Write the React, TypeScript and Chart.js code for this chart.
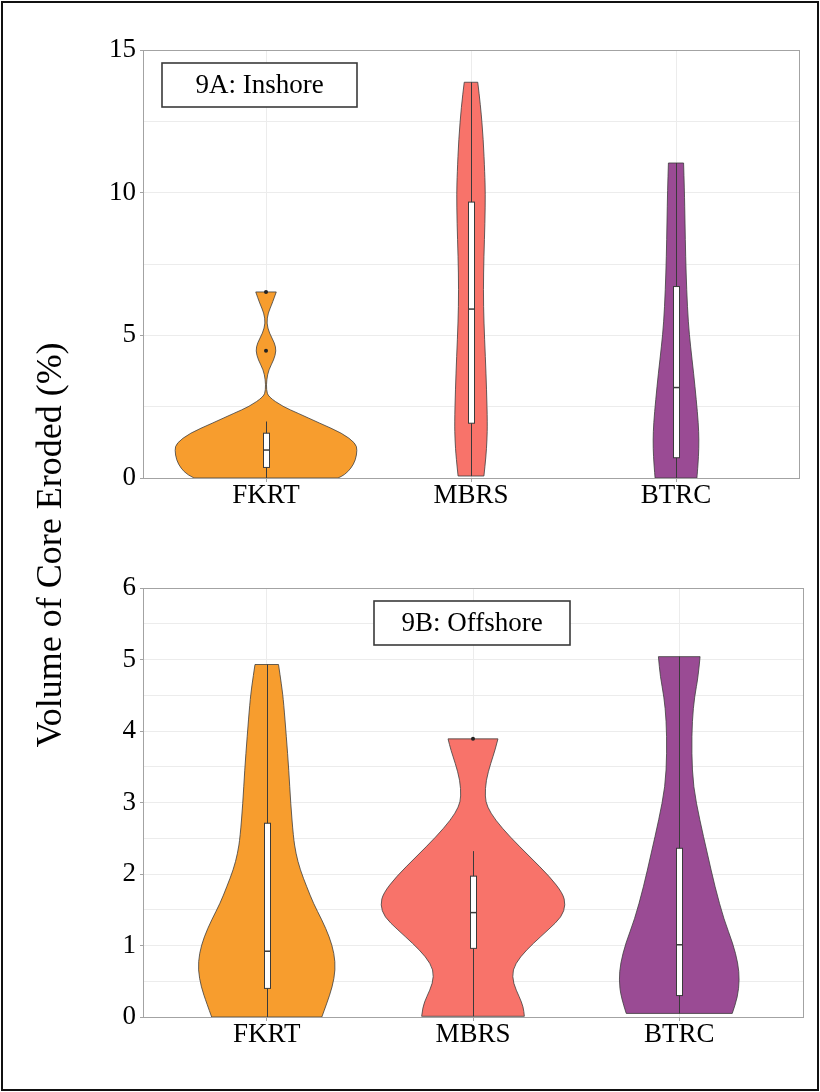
import { useEffect, useRef } from "react";
import { Chart, registerables } from "chart.js";

Chart.register(...registerables);

// Sites along the x axis and their fill colours
const sites = ["FKRT", "MBRS", "BTRC"];
const siteColors = ["#F79D2E", "#F8736A", "#9A4B94"];

type Profile = [number, number][]; // [value, half width of the density in category units]

// 9A: Inshore — density outlines
const inshoreFKRT: Profile = [
  [0, 0.351], [0.11, 0.383], [0.34, 0.415], [0.63, 0.437], [0.98, 0.445], [1.22, 0.437],
  [1.57, 0.372], [1.92, 0.262], [2.27, 0.156], [2.5, 0.083], [2.85, 0.011], [3.09, 0.002],
  [3.44, 0.003], [3.79, 0.013], [4.14, 0.038], [4.46, 0.05], [4.73, 0.042], [5.08, 0.016],
  [5.43, 0.003], [5.78, 0.01], [6.13, 0.031], [6.52, 0.05],
];
const inshoreMBRS: Profile = [
  [0.07, 0.063], [0.75, 0.073], [1.33, 0.078], [1.92, 0.08], [3.09, 0.076], [4.26, 0.07],
  [5.43, 0.063], [6.6, 0.06], [7.77, 0.063], [8.94, 0.068], [9.99, 0.07], [10.69, 0.067],
  [11.86, 0.06], [13.03, 0.047], [13.87, 0.033],
];
const inshoreBTRC: Profile = [
  [0, 0.102], [0.16, 0.104], [0.75, 0.11], [1.33, 0.112], [1.92, 0.109], [2.74, 0.099],
  [3.67, 0.086], [4.61, 0.071], [5.43, 0.06], [6.6, 0.052], [7.77, 0.047], [8.94, 0.044],
  [10.11, 0.041], [11.04, 0.037],
];
const inshoreQ1 = [0.37, 1.92, 0.71];
const inshoreMedian = [0.98, 5.92, 3.17];
const inshoreQ3 = [1.57, 9.67, 6.71];
const inshoreWhiskerLow = [0, 0.07, 0];
const inshoreWhiskerHigh = [1.98, 13.87, 11.04];
const inshoreOutlierSite = [0, 0];
const inshoreOutlierValue = [6.52, 4.46];

// 9B: Offshore — density outlines
const offshoreFKRT: Profile = [
  [0, 0.267], [0.19, 0.291], [0.42, 0.318], [0.66, 0.333], [0.89, 0.327], [1.12, 0.304],
  [1.36, 0.267], [1.59, 0.226], [1.82, 0.194], [2.06, 0.162], [2.29, 0.141], [2.52, 0.129],
  [2.99, 0.116], [3.45, 0.107], [3.92, 0.095], [4.39, 0.082], [4.62, 0.073], [4.93, 0.057],
];
const offshoreMBRS: Profile = [
  [0.01, 0.249], [0.14, 0.244], [0.28, 0.225], [0.47, 0.195], [0.66, 0.191], [0.84, 0.228],
  [1.03, 0.292], [1.22, 0.365], [1.4, 0.43], [1.57, 0.449], [1.73, 0.435], [1.96, 0.373],
  [2.24, 0.276], [2.52, 0.179], [2.76, 0.107], [2.94, 0.069], [3.08, 0.058], [3.31, 0.063],
  [3.55, 0.086], [3.73, 0.107], [3.89, 0.121],
];
const offshoreBTRC: Profile = [
  [0.05, 0.257], [0.28, 0.283], [0.52, 0.292], [0.75, 0.285], [1.03, 0.26], [1.36, 0.217],
  [1.82, 0.173], [2.29, 0.136], [2.76, 0.099], [3.22, 0.068], [3.69, 0.06], [4.15, 0.063],
  [4.48, 0.074], [4.76, 0.092], [5.04, 0.101],
];
const offshoreQ1 = [0.4, 0.96, 0.3];
const offshoreMedian = [0.92, 1.46, 1.01];
const offshoreQ3 = [2.71, 1.97, 2.36];
const offshoreWhiskerLow = [0, 0.01, 0.05];
const offshoreWhiskerHigh = [4.93, 2.32, 5.04];
const offshoreOutlierSite = [1];
const offshoreOutlierValue = [3.89];

// Y axis ticks: grid every step, labels every labelEvery
const inshoreYMax = 15;
const inshoreYStep = 2.5;
const inshoreYLabelEvery = 5;
const offshoreYMax = 6;
const offshoreYStep = 0.5;
const offshoreYLabelEvery = 1;

const yTitle = "Volume of Core Eroded (%)";
const SERIF = "'Liberation Serif', 'Times New Roman', 'DejaVu Serif', serif";

type Pt = { x: number; y: number };

function traceSmooth(ctx: CanvasRenderingContext2D, pts: Pt[], start: boolean) {
  if (start) ctx.moveTo(pts[0].x, pts[0].y);
  else ctx.lineTo(pts[0].x, pts[0].y);
  for (let k = 1; k < pts.length - 1; k++) {
    const mx = (pts[k].x + pts[k + 1].x) / 2;
    const my = (pts[k].y + pts[k + 1].y) / 2;
    ctx.quadraticCurveTo(pts[k].x, pts[k].y, mx, my);
  }
  const last = pts[pts.length - 1];
  ctx.lineTo(last.x, last.y);
}

// Violins with their inner box plots, drawn through the chart's scales
const violinPlugin = {
  id: "violins",
  beforeDatasetsDraw(chart: any, _args: any, opts: any) {
    const { ctx } = chart;
    const xs = chart.scales.x;
    const ys = chart.scales.y;
    opts.profiles.forEach((prof: Profile, i: number) => {
      const c = i + 1;
      const left = prof.map(([v, w]) => ({ x: xs.getPixelForValue(c - w), y: ys.getPixelForValue(v) }));
      const right = prof
        .map(([v, w]) => ({ x: xs.getPixelForValue(c + w), y: ys.getPixelForValue(v) }))
        .reverse();
      ctx.save();
      ctx.beginPath();
      traceSmooth(ctx, left, true);
      traceSmooth(ctx, right, false);
      ctx.closePath();
      ctx.fillStyle = opts.colors[i];
      ctx.fill();
      ctx.strokeStyle = "#3d3d3d";
      ctx.lineWidth = 0.8;
      ctx.stroke();

      const cx = Math.round(xs.getPixelForValue(c)) + 0.5;
      // whisker
      ctx.beginPath();
      ctx.moveTo(cx, ys.getPixelForValue(opts.lo[i]));
      ctx.lineTo(cx, ys.getPixelForValue(opts.hi[i]));
      ctx.strokeStyle = "#3a3a3a";
      ctx.lineWidth = 1;
      ctx.stroke();
      // box
      const yTop = ys.getPixelForValue(opts.q3[i]);
      const yBot = ys.getPixelForValue(opts.q1[i]);
      const half = 3;
      ctx.fillStyle = "#ffffff";
      ctx.fillRect(cx - half, yTop, half * 2, yBot - yTop);
      ctx.strokeStyle = "#3a3a3a";
      ctx.strokeRect(cx - half, yTop, half * 2, yBot - yTop);
      const yMed = ys.getPixelForValue(opts.median[i]);
      ctx.beginPath();
      ctx.moveTo(cx - half, yMed);
      ctx.lineTo(cx + half, yMed);
      ctx.lineWidth = 1.5;
      ctx.stroke();
      ctx.restore();
    });
  },
};

// Plot frame and the panel label box
const framePlugin = {
  id: "panelFrame",
  afterDraw(chart: any, _args: any, opts: any) {
    const { ctx, chartArea } = chart;
    ctx.save();
    ctx.strokeStyle = "#a3a3a3";
    ctx.lineWidth = 1;
    const l = Math.floor(chartArea.left) + 0.5;
    const t = Math.floor(chartArea.top) + 0.5;
    const r = Math.floor(chartArea.right) + 0.5;
    const b = Math.floor(chartArea.bottom) + 0.5;
    ctx.strokeRect(l, t, r - l, b - t);

    const bx = chartArea.left + opts.dx;
    const by = chartArea.top + opts.dy;
    ctx.fillStyle = "#ffffff";
    ctx.fillRect(bx, by, opts.w, opts.h);
    ctx.strokeStyle = "#3a3a3a";
    ctx.lineWidth = 1.6;
    ctx.strokeRect(bx, by, opts.w, opts.h);
    ctx.fillStyle = "#000000";
    ctx.font = `27px ${SERIF}`;
    ctx.textAlign = "center";
    ctx.textBaseline = "middle";
    ctx.fillText(opts.text, bx + opts.w / 2, by + opts.h / 2 + 1);
    ctx.restore();
  },
};

interface PanelProps {
  top: number;
  height: number;
  padTop: number;
  padRight: number;
  axisHeight: number;
  yMax: number;
  yStep: number;
  yLabelEvery: number;
  profiles: Profile[];
  q1: number[];
  median: number[];
  q3: number[];
  lo: number[];
  hi: number[];
  outlierSite: number[];
  outlierValue: number[];
  label: string;
  labelDx: number;
  labelW: number;
}

function ViolinPanel(p: PanelProps) {
  const ref = useRef<HTMLCanvasElement | null>(null);
  useEffect(() => {
    if (!ref.current) return;
    const isMajor = (v: number) => Math.abs(v / p.yLabelEvery - Math.round(v / p.yLabelEvery)) < 1e-6;
    const chart = new Chart(ref.current, {
      type: "scatter",
      data: {
        datasets: [
          {
            data: p.outlierSite.map((s, k) => ({ x: s + 1, y: p.outlierValue[k] })),
            pointRadius: 2,
            pointBackgroundColor: "#222222",
            pointBorderWidth: 0,
            showLine: false,
          },
        ],
      },
      options: {
        responsive: false,
        animation: false,
        events: [],
        layout: { padding: { top: p.padTop, right: p.padRight, left: 0, bottom: 0 } },
        plugins: {
          legend: { display: false },
          tooltip: { enabled: false },
          violins: {
            profiles: p.profiles,
            colors: siteColors,
            q1: p.q1,
            median: p.median,
            q3: p.q3,
            lo: p.lo,
            hi: p.hi,
          },
          panelFrame: { text: p.label, dx: p.labelDx, dy: 13, w: p.labelW, h: 44 },
        } as any,
        scales: {
          x: {
            type: "linear",
            min: 0.4,
            max: 3.6,
            afterBuildTicks: (s: any) => {
              s.ticks = sites.map((_, i) => ({ value: i + 1 }));
            },
            afterFit: (s: any) => {
              s.height = p.axisHeight;
            },
            border: { display: false },
            grid: { color: "#ececec", lineWidth: 1, tickLength: 4, tickColor: "#a3a3a3" },
            ticks: {
              autoSkip: false,
              maxRotation: 0,
              padding: 0,
              color: "#000000",
              font: { family: SERIF, size: 27, lineHeight: 1 },
              callback: (v: any) => sites[Math.round(Number(v)) - 1] ?? "",
            },
          },
          y: {
            type: "linear",
            min: 0,
            max: p.yMax,
            afterFit: (s: any) => {
              s.width = 143;
            },
            border: { display: false },
            grid: {
              color: "#ececec",
              lineWidth: 1,
              tickLength: 3,
              tickColor: (ctx: any) => (ctx.tick && isMajor(ctx.tick.value) ? "#a3a3a3" : "rgba(0,0,0,0)"),
            },
            ticks: {
              stepSize: p.yStep,
              autoSkip: false,
              padding: 4,
              color: "#000000",
              font: { family: SERIF, size: 27 },
              callback: (v: any) => (isMajor(Number(v)) ? String(v) : ""),
            },
          },
        },
      },
      plugins: [violinPlugin, framePlugin],
    } as any);
    return () => chart.destroy();
  }, []);
  return (
    <canvas
      ref={ref}
      width={820}
      height={p.height}
      style={{ position: "absolute", left: 0, top: p.top, width: 820, height: p.height }}
    />
  );
}

export default function App() {
  return (
    <div style={{ position: "absolute", left: 0, top: 0, width: 820, height: 1092, background: "#ffffff" }}>
      <ViolinPanel
        top={0}
        height={540}
        padTop={50}
        padRight={21}
        axisHeight={62}
        yMax={inshoreYMax}
        yStep={inshoreYStep}
        yLabelEvery={inshoreYLabelEvery}
        profiles={[inshoreFKRT, inshoreMBRS, inshoreBTRC]}
        q1={inshoreQ1}
        median={inshoreMedian}
        q3={inshoreQ3}
        lo={inshoreWhiskerLow}
        hi={inshoreWhiskerHigh}
        outlierSite={inshoreOutlierSite}
        outlierValue={inshoreOutlierValue}
        label="9A: Inshore"
        labelDx={19}
        labelW={195}
      />
      <ViolinPanel
        top={540}
        height={552}
        padTop={48}
        padRight={17}
        axisHeight={75}
        yMax={offshoreYMax}
        yStep={offshoreYStep}
        yLabelEvery={offshoreYLabelEvery}
        profiles={[offshoreFKRT, offshoreMBRS, offshoreBTRC]}
        q1={offshoreQ1}
        median={offshoreMedian}
        q3={offshoreQ3}
        lo={offshoreWhiskerLow}
        hi={offshoreWhiskerHigh}
        outlierSite={offshoreOutlierSite}
        outlierValue={offshoreOutlierValue}
        label="9B: Offshore"
        labelDx={231}
        labelW={196}
      />
      <div
        style={{
          position: "absolute",
          left: 49,
          top: 545,
          transform: "translate(-50%, -50%) rotate(-90deg)",
          whiteSpace: "nowrap",
          fontFamily: SERIF,
          fontSize: 36,
          lineHeight: 1,
          color: "#000000",
        }}
      >
        {yTitle}
      </div>
      <div
        style={{
          position: "absolute",
          left: 1,
          top: 1,
          width: 818,
          height: 1090,
          border: "2px solid #111111",
          boxSizing: "border-box",
          pointerEvents: "none",
        }}
      />
    </div>
  );
}
